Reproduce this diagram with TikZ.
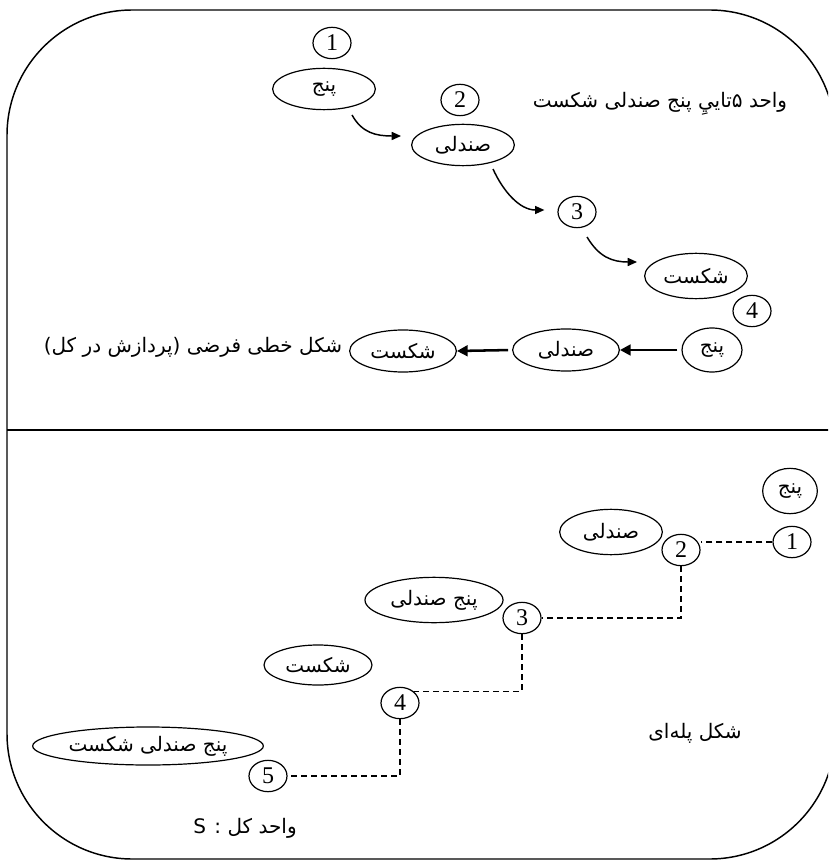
\documentclass[tikz,border=0pt]{standalone}
\usepackage{fontspec}
\newfontfamily\fa[Script=Arabic]{DejaVu Sans}
\newfontfamily\numf{Liberation Serif}
\TeXXeTstate=1
\usetikzlibrary{shapes.geometric,arrows.meta,calc}
\newcommand\FA[1]{{\fa\beginR #1\endR}}
\begin{document}
\begin{tikzpicture}[x=0.75pt,y=-0.75pt,
  el/.style={draw,ellipse,line width=0.9pt,inner sep=0pt,minimum width=77pt,minimum height=31pt,font=\fontsize{15}{17}\selectfont},
  num/.style={draw,ellipse,line width=0.9pt,inner sep=0pt,minimum width=28.5pt,minimum height=23.5pt,font=\numf\fontsize{18}{20}\selectfont},
  txt/.style={font=\fontsize{15}{17}\selectfont,inner sep=0pt},
  carr/.style={line width=1.1pt,-{Triangle[length=7pt,width=6pt]}},
  larr/.style={line width=1.9pt,-{Triangle[length=8pt,width=8pt]},shorten <=3pt},
  dsh/.style={line width=0.9pt,dash pattern=on 4.5pt off 3pt}]
\useasboundingbox (0,0) rectangle (828,862);
\begin{scope}
\clip (0,0) rectangle (828,862);
\draw[line width=1.1pt,rounded corners=94pt] (7,10) rectangle (835,859);
\draw[line width=1.1pt] (7,430) -- (835,430);
\end{scope}
% top section
\node[num] (c1t) at (332,43) {1};
\node[el] (pa) at (324,89) {\FA{پنج}};
\node[num] (c2t) at (460,100) {2};
\node[el] (sa) at (463,145) {\FA{صندلی}};
\node[num] (c3t) at (577,212) {3};
\node[el,minimum height=34pt] (sh) at (696,276) {\FA{شکست}};
\node[num] (c4t) at (752,311) {4};
\node[txt] (title) at (660,104) {\FA{واحد ۵تاييِ پنج صندلی شکست}};
\draw[carr] ([shift={(28,26)}]pa.center) .. controls +(10,18) and +(-25,0) .. ([shift={(-10,-9)}]sa.west);
\draw[carr] ([shift={(30,24)}]sa.center) .. controls +(10,22) and +(-25,0) .. ([shift={(-13,-2)}]c3t.west);
\draw[carr] ([shift={(10,25)}]c3t.center) .. controls +(12,20) and +(-25,0) .. ([shift={(-7,-14)}]sh.west);
% linear row
\node[el,minimum width=45pt,minimum height=33pt] (lp) at (712,350) {\FA{پنج}};
\node[el,minimum width=80pt,minimum height=31.5pt] (ls) at (566,350) {\FA{صندلی}};
\node[el,minimum width=80pt,minimum height=31.5pt] (lsh) at (403,351) {\FA{شکست}};
\node[txt] (ltext) at (193,347) {\FA{شکل خطی فرضی (پردازش در کل)}};
\draw[larr] (lp.west) -- (ls.east);
\draw[larr] (ls.west) -- (lsh.east);
% bottom section
\node[el,minimum width=41pt,minimum height=34pt] (bp) at (790,491) {\FA{پنج}};
\node[num] (b1) at (792,542) {1};
\node[el,minimum height=34pt] (bs) at (611,532) {\FA{صندلی}};
\node[num] (b2) at (681,550) {2};
\node[el,minimum width=103.5pt,minimum height=34pt] (bps) at (434,600) {\FA{پنج صندلی}};
\node[num] (b3) at (522,618) {3};
\node[el,minimum width=81pt,minimum height=30pt] (bsh) at (318,665) {\FA{شکست}};
\node[num] (b4) at (400,703) {4};
\node[el,minimum width=173pt,minimum height=28.5pt] (bpsh) at (148,746) {\FA{پنج صندلی شکست}};
\node[num] (b5) at (268,776) {5};
\node[txt] (stair) at (695,733) {\FA{شکل پله‌ای}};
\node[txt] (whole) at (245,828) {\FA{واحد کل : S}};
\draw[dsh] (b1.west) -- (b1.west -| b2.east);
\draw[dsh] (b2.south) |- (b3.east);
\draw[dsh] (b3.south) |- (b4.north east);
\draw[dsh] (b4.south) |- (b5.east);
\end{tikzpicture}
\end{document}
